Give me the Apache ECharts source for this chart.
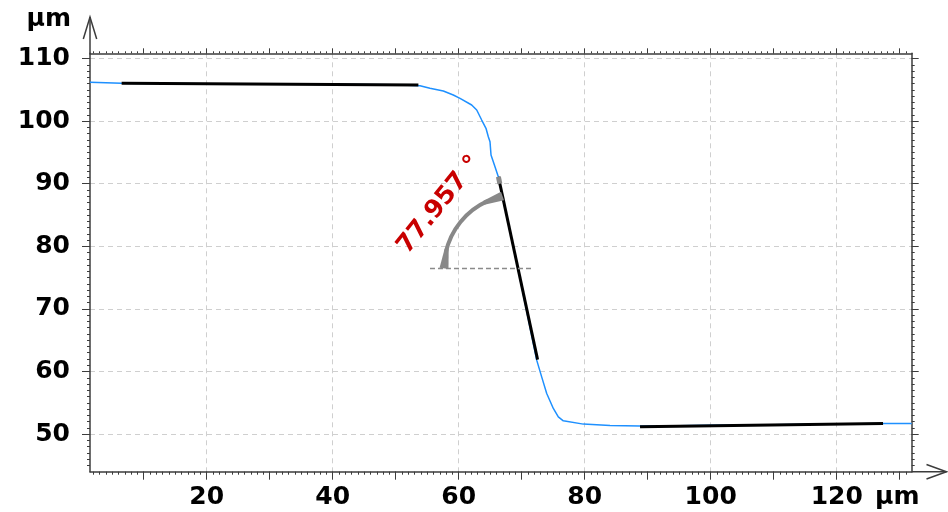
<!DOCTYPE html>
<html>
<head>
<meta charset="utf-8">
<title>Profile step angle</title>
<script src="https://cdn.jsdelivr.net/npm/echarts@6/dist/echarts.min.js"></script>
<style>
  html, body { margin: 0; padding: 0; background: #fff; }
  #chart { width: 948px; height: 512px; }
</style>
</head>
<body>
<div id="chart"></div>
<script>
// measured profile (µm)
const profileX = [1.48, 6.5, 20, 35, 50, 53.86, 55.44, 57.56, 59.14, 60.21, 62.06, 62.86, 63.65, 64.33, 64.7, 64.97, 65.13, 65.76, 66.29, 69.4, 72.38, 73.17, 73.97, 75.02, 75.81, 76.6, 79.78, 84.02, 88.78, 95, 100, 110, 120, 127.35, 131.9];
const profileY = [106.2, 106.05, 105.98, 105.9, 105.8, 105.65, 105.24, 104.81, 104.17, 103.64, 102.57, 101.77, 100.17, 98.85, 97.5, 96.7, 94.58, 92.71, 91.11, 76.5, 61.82, 59.15, 56.5, 54.1, 52.76, 52.12, 51.6, 51.39, 51.28, 51.33, 51.4, 51.5, 51.6, 51.7, 51.71];

// fitted segments
const fitTopX = [6.5, 53.6];
const fitTopY = [106.05, 105.77];
const fitSlopeX = [66.3, 72.52];
const fitSlopeY = [91.1, 61.9];
const fitBottomX = [88.78, 127.35];
const fitBottomY = [51.16, 51.71];

// horizontal reference for the angle
const refLineX = [55.44, 71.84];
const refLineY = 76.47;
const angleDeg = 77.957;

// axes
const xMin = 1.48, xMax = 131.9;
const yMin = 44.0, yMax = 110.83;
const xLabels = [20, 40, 60, 80, 100, 120];
const xOddTens = [10, 30, 50, 70, 90, 110, 130];
const yLabels = [50, 60, 70, 80, 90, 100, 110];
const xMinor = [];
for (let v = 2; v <= 131; v++) xMinor.push(v);
const yMinor = [];
for (let v = 45; v <= 110; v++) yMinor.push(v);

const zip = (xs, ys) => xs.map((x, i) => [x, ys[i]]);

const FONT = '"DejaVu Sans", Verdana, sans-serif';
const AXIS_COLOR = '#3c3c3c';
const labelStyle = { color: '#000', fontSize: 25, fontWeight: 'bold', fontFamily: FONT };

// where the slope fit crosses the reference line
const xCross = fitSlopeX[0] + (fitSlopeY[0] - refLineY) * (fitSlopeX[1] - fitSlopeX[0]) / (fitSlopeY[0] - fitSlopeY[1]);

const chart = echarts.init(document.getElementById('chart'));

function tickAxis(pos, values, len, extra) {
  return Object.assign({
    type: 'value',
    position: pos,
    axisLine: { show: false },
    axisTick: { show: true, customValues: values, length: len, lineStyle: { color: AXIS_COLOR, width: 1 } },
    axisLabel: { show: false },
    splitLine: { show: false }
  }, extra);
}

function renderAngle(params, api) {
  const c = api.coord([api.value(0), api.value(1)]);
  const top = api.coord([fitSlopeX[0], fitSlopeY[0]]);
  const r = 74;
  const a1 = Math.PI;
  let a2 = Math.atan2(top[1] - c[1], top[0] - c[0]);
  if (a2 < 0) a2 += Math.PI * 2;
  const pt = (a, rr) => [c[0] + (rr || r) * Math.cos(a), c[1] + (rr || r) * Math.sin(a)];
  // flared end cap: narrow where it leaves the arc, wide where it meets the line
  const cap = (aTip, aBase) => {
    const tip = pt(aTip), base = pt(aBase);
    const dx = tip[0] - base[0], dy = tip[1] - base[1];
    const l = Math.hypot(dx, dy) || 1;
    const nx = -dy / l, ny = dx / l;
    return [
      [base[0] + nx * 2, base[1] + ny * 2],
      [tip[0] + nx * 4.5, tip[1] + ny * 4.5],
      [tip[0] - nx * 4.5, tip[1] - ny * 4.5],
      [base[0] - nx * 2, base[1] - ny * 2]
    ];
  };
  const d = 20 / r;
  const mid = (a1 + a2) / 2;
  const tp = pt(mid, 101);
  // short grey cap on top of the slope fit
  const ux = c[0] - top[0], uy = c[1] - top[1];
  const ul = Math.hypot(ux, uy);
  return {
    type: 'group',
    children: [
      {
        type: 'line',
        shape: { x1: top[0], y1: top[1], x2: top[0] + ux / ul * 7, y2: top[1] + uy / ul * 7 },
        style: { stroke: '#888', lineWidth: 5 }
      },
      {
        type: 'arc',
        shape: { cx: c[0], cy: c[1], r: r, startAngle: a1 + d * 0.8, endAngle: a2 - d * 0.8, clockwise: true },
        style: { stroke: '#888', lineWidth: 4, fill: null }
      },
      { type: 'polygon', shape: { points: cap(a1, a1 + d) }, style: { fill: '#888' } },
      { type: 'polygon', shape: { points: cap(a2, a2 - d) }, style: { fill: '#888' } },
      {
        type: 'text',
        x: tp[0],
        y: tp[1],
        rotation: Math.PI / 2 - (a2 - a1) / 2,
        style: {
          text: angleDeg.toFixed(3) + ' °',
          fill: '#c80000',
          font: 'bold 25px ' + FONT,
          align: 'center', verticalAlign: 'middle',
          textAlign: 'center', textVerticalAlign: 'middle'
        }
      }
    ]
  };
}

chart.setOption({
  animation: false,
  backgroundColor: '#fff',
  grid: { left: 90, right: 36.3, top: 53.3, bottom: 40.3, outerBoundsMode: 'none' },
  xAxis: [
    {
      type: 'value', position: 'bottom', min: xMin, max: xMax,
      name: 'μm', nameLocation: 'end', nameGap: -36.7, nameMoveOverlap: false,
      nameTextStyle: Object.assign({}, labelStyle, { align: 'left', verticalAlign: 'top', padding: [13, 0, 0, 0] }),
      axisLine: { show: true, lineStyle: { color: AXIS_COLOR, width: 1.5 } },
      axisTick: { show: true, customValues: xLabels, length: 8, lineStyle: { color: AXIS_COLOR, width: 1 } },
      axisLabel: Object.assign({ customValues: xLabels, margin: 13 }, labelStyle),
      splitLine: { show: true, lineStyle: { color: '#cfcfcf', type: [5, 4], width: 1 } }
    },
    tickAxis('bottom', xOddTens, 8, { min: xMin, max: xMax }),
    tickAxis('bottom', xMinor, 3, { min: xMin, max: xMax }),
    tickAxis('top', xLabels.concat(xOddTens), 5, { min: xMin, max: xMax, axisLine: { show: true, lineStyle: { color: AXIS_COLOR, width: 1.5 } } }),
    tickAxis('top', xMinor, 2, { min: xMin, max: xMax })
  ],
  yAxis: [
    {
      type: 'value', position: 'left', min: yMin, max: yMax,
      name: 'μm', nameLocation: 'end', nameGap: 21, nameMoveOverlap: false,
      nameTextStyle: Object.assign({}, labelStyle, { align: 'right', verticalAlign: 'bottom', padding: [0, 19, 0, 0] }),
      axisLine: { show: true, lineStyle: { color: AXIS_COLOR, width: 1.5 } },
      axisTick: { show: true, customValues: yLabels, length: 8, lineStyle: { color: AXIS_COLOR, width: 1 } },
      axisLabel: Object.assign({ customValues: yLabels, margin: 20 }, labelStyle),
      splitLine: { show: true, lineStyle: { color: '#cfcfcf', type: [5, 4], width: 1 } }
    },
    tickAxis('left', yMinor, 3, { min: yMin, max: yMax }),
    tickAxis('right', yLabels, 7, { min: yMin, max: yMax, axisLine: { show: true, lineStyle: { color: AXIS_COLOR, width: 1.5 } } }),
    tickAxis('right', yMinor, 3, { min: yMin, max: yMax })
  ],
  series: [
    {
      name: 'profile', type: 'line', data: zip(profileX, profileY),
      symbol: 'none', smooth: false, z: 2,
      lineStyle: { color: '#1e90ff', width: 1.5 }
    },
    {
      name: 'fit top', type: 'line', data: zip(fitTopX, fitTopY),
      symbol: 'none', z: 3, lineStyle: { color: '#000', width: 3 }
    },
    {
      name: 'fit slope', type: 'line', data: zip(fitSlopeX, fitSlopeY),
      symbol: 'none', z: 3, lineStyle: { color: '#000', width: 3 }
    },
    {
      name: 'fit bottom', type: 'line', data: zip(fitBottomX, fitBottomY),
      symbol: 'none', z: 3, lineStyle: { color: '#000', width: 3 }
    },
    {
      name: 'reference', type: 'line', data: zip(refLineX, [refLineY, refLineY]),
      symbol: 'none', z: 3, lineStyle: { color: '#8a8a8a', width: 1.5, type: [5, 3] }
    },
    {
      name: 'angle', type: 'custom', data: [[xCross, refLineY]],
      renderItem: renderAngle, clip: false, z: 4, silent: true
    }
  ],
  graphic: [
    // axis extensions with open arrow heads
    { type: 'line', shape: { x1: 90, y1: 53.3, x2: 90, y2: 17 }, style: { stroke: AXIS_COLOR, lineWidth: 1.5 } },
    { type: 'polyline', shape: { points: [[83.3, 39], [90, 17], [96.7, 39]] }, style: { stroke: AXIS_COLOR, lineWidth: 1.5, fill: null } },
    { type: 'line', shape: { x1: 911.7, y1: 471.7, x2: 946.5, y2: 471.7 }, style: { stroke: AXIS_COLOR, lineWidth: 1.5 } },
    { type: 'polyline', shape: { points: [[926.5, 464.5], [946.5, 471.7], [926.5, 479]] }, style: { stroke: AXIS_COLOR, lineWidth: 1.5, fill: null } }
  ]
});
</script>
</body>
</html>
